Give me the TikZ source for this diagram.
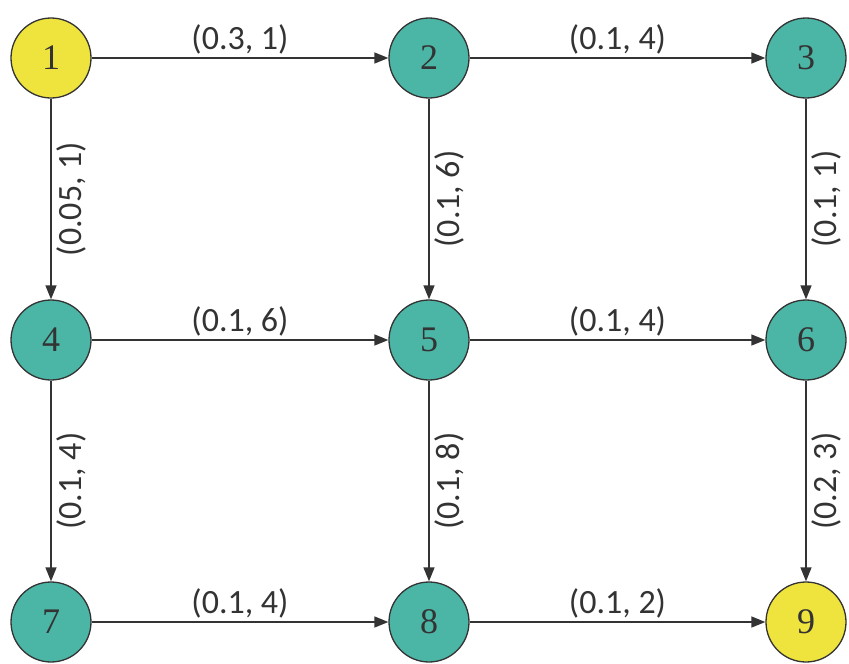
\documentclass[tikz,border=0pt]{standalone}
\usepackage{fontspec}
\newfontfamily\lblfont{Carlito}
\newfontfamily\vtxfont{Liberation Serif}
\usetikzlibrary{arrows.meta}
\definecolor{teal1}{HTML}{4BB6A6}
\definecolor{yel1}{HTML}{EFE43E}
\definecolor{edge1}{HTML}{333333}
\tikzset{
  vtx/.style={circle, draw=edge1, line width=1.3pt, minimum size=80pt, inner sep=0pt,
    font=\vtxfont\fontsize{36}{36}\selectfont, text=black!80},
  tealv/.style={vtx, fill=teal1},
  yelv/.style={vtx, fill=yel1},
  conn/.style={draw=edge1, line width=1.4pt, -{Triangle[length=14pt,width=11pt]}},
  hlab/.style={font=\lblfont\fontsize{34}{34}\selectfont, text=black!80, anchor=south, inner sep=3pt},
  vlab/.style={font=\lblfont\fontsize{34}{34}\selectfont, text=black!80, anchor=north, rotate=90, inner sep=5pt},
}
\begin{document}
\begin{tikzpicture}[x=1pt,y=-1pt]
\useasboundingbox (0,0) rectangle (849,664);
\node[yelv]  (n1) at (51,58)  {1};
\node[tealv] (n2) at (429,58) {2};
\node[tealv] (n3) at (806,58) {3};
\node[tealv] (n4) at (51,340)  {4};
\node[tealv] (n5) at (429,340) {5};
\node[tealv] (n6) at (806,340) {6};
\node[tealv] (n7) at (51,622)  {7};
\node[tealv] (n8) at (429,622) {8};
\node[yelv]  (n9) at (806,622) {9};
\path[conn] (n1) -- node[hlab]{(0.3, 1)} (n2);
\path[conn] (n2) -- node[hlab]{(0.1, 4)} (n3);
\path[conn] (n4) -- node[hlab]{(0.1, 6)} (n5);
\path[conn] (n5) -- node[hlab]{(0.1, 4)} (n6);
\path[conn] (n7) -- node[hlab]{(0.1, 4)} (n8);
\path[conn] (n8) -- node[hlab]{(0.1, 2)} (n9);
\path[conn] (n1) -- node[vlab]{(0.05, 1)} (n4);
\path[conn] (n2) -- node[vlab]{(0.1, 6)} (n5);
\path[conn] (n3) -- node[vlab]{(0.1, 1)} (n6);
\path[conn] (n4) -- node[vlab]{(0.1, 4)} (n7);
\path[conn] (n5) -- node[vlab]{(0.1, 8)} (n8);
\path[conn] (n6) -- node[vlab]{(0.2, 3)} (n9);
\end{tikzpicture}
\end{document}
